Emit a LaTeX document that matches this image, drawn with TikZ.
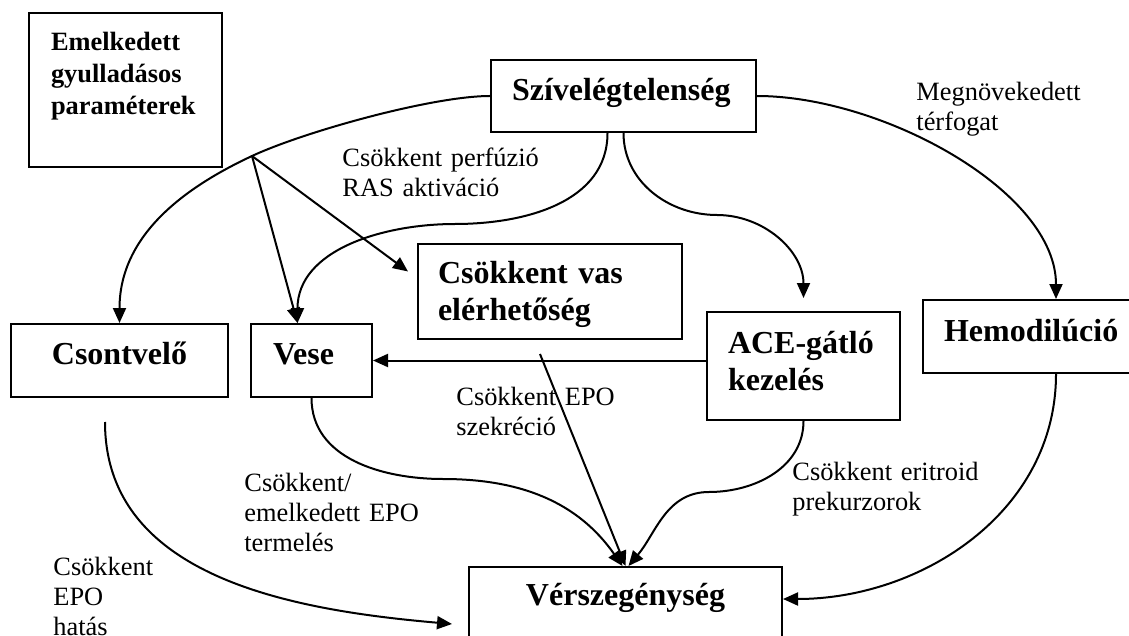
\documentclass[tikz,border=0pt]{standalone}
\usepackage{fontspec}
\setmainfont{Liberation Serif}
\usetikzlibrary{arrows.meta}

\newcommand{\boxtxt}{\fontsize{16}{18.5}\selectfont\bfseries}
\newcommand{\infotxt}{\fontsize{13.2}{15.8}\selectfont\bfseries}
\newcommand{\lbltxt}{\fontsize{13.2}{15}\selectfont}

\tikzset{
  box/.style={draw, line width=1pt, anchor=north west, inner ysep=0pt, align=left, font=\boxtxt},
  lbl/.style={anchor=base west, inner sep=0pt, text width=125pt, align=left, font=\lbltxt},
  arr/.style={line width=1pt, -{Triangle[length=7.5pt,width=6.5pt]}}
}

\begin{document}
\begin{tikzpicture}[x=0.5pt, y=-0.5pt]
  \useasboundingbox (0,0) rectangle (1129,636);
  \clip (0,0) rectangle (1129,636);

  % Boxes
  \node[box, font=\infotxt, text width=74.5pt, inner xsep=11pt, text height=19pt, text depth=58pt] (par) at (28,12) {Emelkedett\\gyulladásos\\paraméterek};
  \node[box, text width=111.5pt, inner xsep=10.5pt, text height=20.5pt, text depth=15.5pt] (szv) at (490,59) {Szívelégtelenség};
  \node[box, text width=112pt, inner xsep=10pt, text height=20pt, text depth=27.5pt] (vas) at (417,243) {Csökkent vas\\elérhetőség};
  \node[box, align=center, text width=98.5pt, inner xsep=5pt, text height=20pt, text depth=16.5pt] (csv) at (10,323) {Csontvelő};
  \node[box, text width=38.5pt, inner xsep=11pt, text height=20pt, text depth=16.5pt] (vese) at (250,323) {Vese};
  \node[box, text width=75.5pt, inner xsep=10.5pt, text height=20.5pt, text depth=33.5pt] (ace) at (706,311) {ACE-gátló\\kezelés};
  \node[box, text width=112pt, inner xsep=10.5pt, text height=20.5pt, text depth=16pt] (hem) at (922,299) {Hemodilúció};
  \node[box, align=center, text width=146.5pt, inner xsep=5pt, text height=19pt, text depth=26pt] (ver) at (468,566) {Vérszegénység};

  % Labels
  \node[lbl] (perf) at (342,167) {Csökkent perfúzió\\RAS aktiváció};
  \node[lbl] (megn) at (916,101) {Megnövekedett\\térfogat};
  \node[lbl] (szekr) at (456,405) {Csökkent EPO\\szekréció};
  \node[lbl] (term) at (244,491) {Csökkent/\\emelkedett EPO\\termelés};
  \node[lbl] (hatas) at (53,575) {Csökkent\\EPO\\hatás};
  \node[lbl] (erit) at (792,480) {Csökkent eritroid\\prekurzorok};

  % Branch point
  \coordinate (brn) at (252,156);

  % Arrows from Szivelegtelenseg
  \draw[arr] (szv.west) to[out=180,in=25,looseness=0.6] (brn) to[out=205,in=90] (csv.north);
  \draw[arr] (brn) -- ([xshift=-7pt]vese.north);
  \draw[arr] (brn) -- ([shift={(-4.5pt,10pt)}]vas.west);
  \draw[arr] ([xshift=-8pt]szv.south) to[out=-90,in=0] (455,224) to[out=180,in=90] ([xshift=-7pt]vese.north);
  \draw[arr] (szv.south) to[out=-90,in=180] (717,215) to[out=0,in=90] ([yshift=6.5pt]ace.north);
  \draw[arr] (szv.east) .. controls +(125,0) and +(0,-108) .. (hem.north);

  % ACE -> Vese
  \draw[arr] (vese.east -| ace.west) -- (vese.east);

  % Arrows to Verszegenyseg
  \draw[arr] (vese.south) to[out=-90,in=180] (443,479) to[out=0,in=125] ([xshift=-1.5pt]ver.north);
  \draw[arr] ([shift={(-5pt,-7pt)}]vas.south) -- (ver.north);
  \draw[arr] (ace.south) to[out=-90,in=0] (709,492) to[out=180,in=50] ([xshift=1.5pt]ver.north);
  \draw[arr] (hem.south) to[out=-90,in=0] ([yshift=-16.5pt]ver.north east);
  \draw[arr] ([shift={(-7.25pt,-12pt)}]csv.south) to[out=-90,in=175] ([shift={(-8pt,-6pt)}]ver.west);
\end{tikzpicture}
\end{document}
